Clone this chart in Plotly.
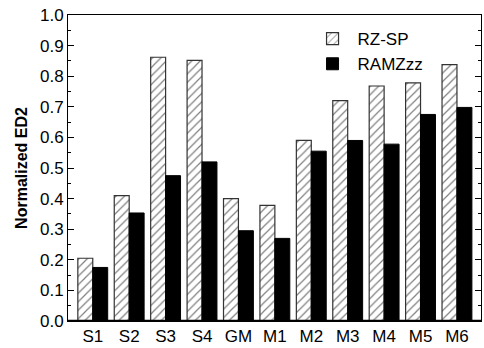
import plotly.graph_objects as go

categories = ["S1", "S2", "S3", "S4", "GM", "M1", "M2", "M3", "M4", "M5", "M6"]
rz_sp = [0.205, 0.41, 0.862, 0.852, 0.40, 0.378, 0.59, 0.72, 0.768, 0.778, 0.838]
ramzzz = [0.175, 0.353, 0.475, 0.52, 0.295, 0.27, 0.555, 0.59, 0.578, 0.675, 0.698]
y_ticks = [0.0, 0.1, 0.2, 0.3, 0.4, 0.5, 0.6, 0.7, 0.8, 0.9, 1.0]

x = list(range(len(categories)))
font = "Liberation Sans, Arial, sans-serif"

fig = go.Figure()
fig.add_trace(go.Bar(
    x=x, y=rz_sp, name="RZ-SP",
    marker=dict(color="white", line=dict(color="#333", width=1.2),
                pattern=dict(shape="/", fgcolor="black", bgcolor="white", size=6, solidity=0.2)),
))
fig.add_trace(go.Bar(
    x=x, y=ramzzz, name="RAMZzz",
    marker=dict(color="black", line=dict(color="black", width=1)),
))

fig.update_layout(
    width=484, height=348,
    margin=dict(l=68, r=2, t=15, b=24),
    paper_bgcolor="white", plot_bgcolor="white",
    barmode="group", bargap=0.18, bargroupgap=0.0,
    font=dict(family=font, size=17, color="black"),
    showlegend=True,
    legend=dict(x=0.58, y=0.98, xanchor="left", yanchor="top",
                bgcolor="rgba(0,0,0,0)", font=dict(size=17),
                itemwidth=40, tracegroupgap=0),
    xaxis=dict(
        range=[-0.68, 10.66], tickmode="array", tickvals=x, ticktext=categories,
        showline=True, linecolor="black", linewidth=1, mirror=True,
        ticks="", showgrid=False, zeroline=False, tickfont=dict(size=17),
    ),
    xaxis2=dict(
        range=[-0.68, 10.66], overlaying="x", side="top", anchor="y",
        tickmode="linear", tick0=-0.5, dtick=0.5, ticks="inside", ticklen=4,
        tickcolor="black", showticklabels=False, showgrid=False, zeroline=False,
    ),
    yaxis=dict(
        range=[0, 1.0], tickmode="array", tickvals=y_ticks,
        ticktext=[f"{v:.1f}" for v in y_ticks],
        showline=True, linecolor="black", linewidth=1, mirror="allticks",
        ticks="inside", ticklen=6, tickcolor="black",
        minor=dict(ticks="inside", dtick=0.05, ticklen=3, tickcolor="black"),
        showgrid=False, zeroline=False, tickfont=dict(size=17),
        title=dict(text="<b>Normalized ED2</b>", font=dict(size=16), standoff=8),
    ),
)
fig.add_shape(type="line", xref="paper", yref="y", x0=0, x1=1, y0=0, y1=0,
              line=dict(color="black", width=2.5))

fig.write_html("out.html")
